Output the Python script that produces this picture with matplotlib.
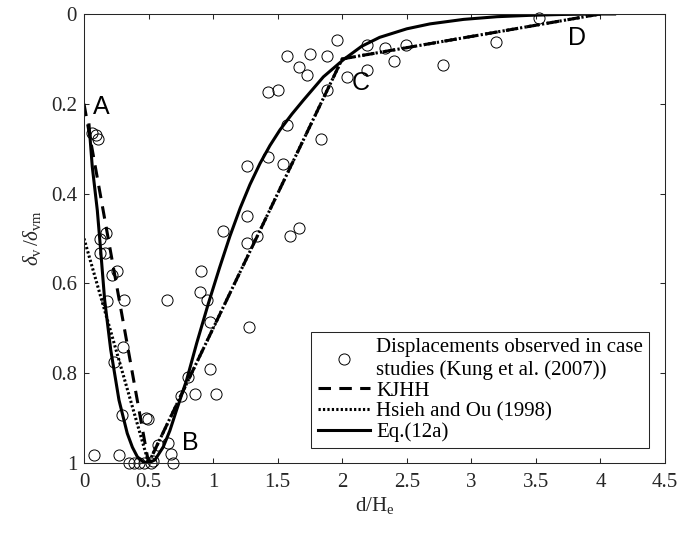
import matplotlib
matplotlib.use("Agg")
import matplotlib.pyplot as plt

plt.rcParams['font.family'] = ['Liberation Serif', 'DejaVu Serif']
plt.rcParams['mathtext.fontset'] = 'custom'
plt.rcParams['mathtext.rm'] = 'Liberation Serif'
plt.rcParams['mathtext.it'] = 'Liberation Serif:italic'
plt.rcParams['lines.scale_dashes'] = False

# observed displacements (d/He, dv/dvm)
obs_x = [0.064, 0.09, 0.108, 0.168, 0.124, 0.124, 0.16, 0.219, 0.258, 0.18, 0.31,
         0.304, 0.232, 0.297, 0.478, 0.496, 0.077, 0.271, 0.349, 0.387, 0.426, 0.465,
         0.516, 0.537, 0.576, 0.653, 0.671, 0.687, 0.645, 0.749, 0.803, 0.86, 0.898,
         0.91, 0.95, 0.976, 0.976, 1.022, 1.278, 1.074, 1.265, 1.265, 1.265, 1.342,
         1.428, 1.544, 1.595, 1.668, 1.575, 1.833, 1.428, 1.505, 1.88, 1.575, 1.75,
         1.88, 1.668, 1.73, 1.957, 2.035, 2.19, 2.19, 2.33, 2.40, 2.494, 2.778, 3.19, 3.525]
obs_y = [0.266, 0.27, 0.279, 0.488, 0.5, 0.533, 0.533, 0.581, 0.572, 0.64, 0.637,
         0.741, 0.774, 0.893, 0.90, 0.903, 0.982, 0.982, 1.0, 1.0, 1.0, 1.0,
         1.0, 0.995, 0.96, 0.955, 0.98, 0.999, 0.637, 0.851, 0.808, 0.846, 0.62,
         0.572, 0.637, 0.685, 0.79, 0.846, 0.698, 0.483, 0.339, 0.45, 0.511, 0.494,
         0.319, 0.334, 0.494, 0.477, 0.247, 0.279, 0.174, 0.169, 0.169, 0.093, 0.088,
         0.093, 0.119, 0.136, 0.059, 0.141, 0.069, 0.125, 0.076, 0.104, 0.069, 0.114, 0.063, 0.01]

# KJHH trilinear
kjhh_x = [0, 0.5, 2, 4]
kjhh_y = [0.2, 1.0, 0.1, 0.0]
# Hsieh and Ou (1998)
ho_x = [0, 0.5, 2, 4]
ho_y = [0.5, 1.0, 0.1, 0.0]
# Eq.(12a)
eq_x = [0.039, 0.064, 0.103, 0.129, 0.16, 0.207, 0.271, 0.335, 0.375, 0.413, 0.455,
        0.5, 0.55, 0.614, 0.665, 0.717, 0.795, 0.873, 0.963, 1.05, 1.13, 1.21, 1.285,
        1.363, 1.44, 1.518, 1.61, 1.699, 1.854, 2.008, 2.15, 2.29, 2.5, 2.68, 2.94,
        3.2, 3.45, 3.71, 3.97, 4.11]
eq_y = [0.247, 0.34, 0.437, 0.526, 0.637, 0.748, 0.86, 0.934, 0.965, 0.986, 0.997,
        1.0, 0.993, 0.964, 0.928, 0.882, 0.815, 0.733, 0.645, 0.565, 0.495, 0.432, 0.38,
        0.333, 0.293, 0.258, 0.223, 0.192, 0.14, 0.102, 0.072, 0.052, 0.033, 0.022, 0.012,
        0.006, 0.003, 0.001, 0.0, 0.0]

point_labels = ['A', 'B', 'C', 'D']
point_x = [0.13, 0.825, 2.14, 3.82]
point_y = [0.207, 0.955, 0.154, 0.054]

xticks = [0, 0.5, 1, 1.5, 2, 2.5, 3, 3.5, 4, 4.5]
xticklabels = ['0', '0.5', '1', '1.5', '2', '2.5', '3', '3.5', '4', '4.5']
yticks = [0, 0.2, 0.4, 0.6, 0.8, 1]
yticklabels = ['0', '0.2', '0.4', '0.6', '0.8', '1']

fig = plt.figure(figsize=(6.78, 5.33), dpi=100)
ax = fig.add_axes([84/678, 1 - 463/533, 581/678, 449/533])

ax.plot(obs_x, obs_y, 'o', mfc='none', mec='k', ms=8, mew=0.7, clip_on=False,
        label='Displacements observed in case\nstudies (Kung et al. (2007))')
ax.plot(kjhh_x, kjhh_y, color='k', lw=2.2, dashes=(9, 6), dash_capstyle='butt', label='KJHH')
ax.plot(ho_x, ho_y, color='k', lw=2.2, dashes=(1.6, 1.6), dash_capstyle='butt', label='Hsieh and Ou (1998)')
ax.plot(eq_x, eq_y, color='k', lw=2.2, solid_joinstyle='round', label='Eq.(12a)')

for lab, px, py in zip(point_labels, point_x, point_y):
    ax.text(px, py, lab, family='Liberation Sans', fontsize=18, ha='center', va='center')

ax.set_xlim(0, 4.5)
ax.set_ylim(1, 0)
ax.set_xticks(xticks)
ax.set_xticklabels(xticklabels)
ax.set_yticks(yticks)
ax.set_yticklabels(yticklabels)
ax.tick_params(direction='in', top=True, right=True, length=3.6, width=0.75,
               color='0.15', labelcolor='0.15', labelsize=15)
ax.tick_params(axis='x', pad=7)
ax.tick_params(axis='y', pad=5)
for s in ax.spines.values():
    s.set_color('0.15')
    s.set_linewidth(0.75)

ax.set_xlabel(r'd/H$_{\rm e}$', fontsize=15, color='0.15', labelpad=2)
ax.set_ylabel(r'$\delta_{\rm v}\,$/$\delta_{\rm vm}$', fontsize=15, color='0.15', labelpad=6)

leg = ax.legend(loc='lower right', bbox_to_anchor=(0.9725, 0.0327), borderaxespad=0,
                fontsize=15, numpoints=1, handlelength=2.5, handletextpad=0.3,
                labelspacing=0.05, borderpad=0.3, fancybox=False, framealpha=1)
leg.get_frame().set_edgecolor('0.15')
leg.get_frame().set_linewidth(0.75)

plt.savefig('out.png', dpi=100)
